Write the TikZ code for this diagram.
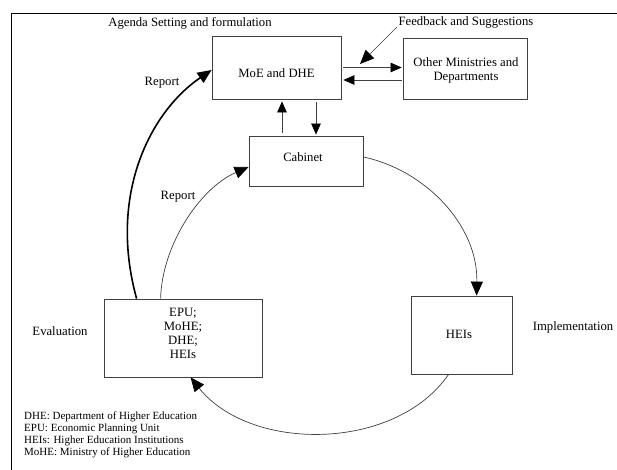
\documentclass[tikz,border=0pt]{standalone}
\usepackage{fontspec}
\setmainfont{Liberation Serif}
\usetikzlibrary{arrows.meta,calc}
\begin{document}
\begin{tikzpicture}[x=1pt,y=-1pt,
  box/.style={draw=black!75,line width=0.8pt,inner sep=0pt,align=center,font=\fontsize{12.7}{14}\selectfont},
  lbl/.style={inner sep=0pt,align=center,font=\fontsize{12.7}{14}\selectfont},
  leg/.style={inner sep=0pt,anchor=west,font=\fontsize{11}{12}\selectfont},
  bigtip/.style={-{Triangle[length=14pt,width=12pt,black]}},
  smalltip/.style={-{Triangle[length=11pt,width=9.5pt,black]}},
  thinline/.style={draw=black!75,line width=0.7pt},
  thickline/.style={draw=black,line width=1.6pt},
]
\useasboundingbox (0,0) rectangle (617,470);
\fill[white] (0,0) rectangle (617,470);
% frame
\draw[line width=1.3pt] (625,13.5) -- (11.5,13.5) -- (11.5,480);

% boxes
\node[box,minimum width=129pt,minimum height=63pt] (moe) at (276.5,67.5) {};
\node[lbl] (moetext) at (276.5,73) {MoE and DHE};
\node[box,minimum width=124pt,minimum height=61pt] (other) at (465,68.5) {};
\node[lbl] (othertext) at (466,70.5) {Other Ministries and\\Departments};
\node[box,minimum width=114pt,minimum height=50pt] (cab) at (306,161) {};
\node[lbl] (cabtext) at (303,157) {Cabinet};
\node[box,minimum width=158pt,minimum height=78pt] (eval) at (183,338) {};
\node[lbl] (evaltext) at (183,333) {EPU;\\MoHE;\\DHE;\\HEIs};
\node[box,minimum width=101pt,minimum height=78pt] (hei) at (461.5,335) {};
\node[lbl] (heitext) at (459,334) {HEIs};

% labels
\node[lbl] (agenda) at (190,23) {Agenda Setting and formulation};
\node[lbl] (fb) at (466,22) {Feedback and Suggestions};
\node[lbl] (rep1) at (162,83) {Report};
\node[lbl] (rep2) at (178,197) {Report};
\node[lbl] (evlbl) at (60,331) {Evaluation};
\node[lbl] (impl) at (573,327) {Implementation};

% legend
\node[leg] (l1) at (24,417) {DHE: Department of Higher Education};
\node[leg] (l2) at (24,429) {EPU: Economic Planning Unit};
\node[leg] (l3) at (24,441) {HEIs: Higher Education Institutions};
\node[leg] (l4) at (24,453) {MoHE: Ministry of Higher Education};

% feedback arrow
\coordinate (fbs) at (397,27);
\coordinate (fbe) at (360,64);
\draw[thinline,bigtip] (fbs) -- (fbe);

% horizontal arrows
\draw[thinline,smalltip,shorten <=2pt,shorten >=1pt] (moe.east) -- (moe.east -| other.west);
\draw[thinline,smalltip,shorten <=1pt,shorten >=2pt] ([yshift=-11.5pt]other.west) -- ([yshift=-11.5pt]other.west -| moe.east);

% vertical arrows
\draw[thinline,smalltip,shorten <=3pt,shorten >=2pt] ([xshift=-24pt]cab.north) -- ([xshift=-24pt]cab.north |- moe.south);
\draw[thinline,smalltip,shorten <=3pt,shorten >=1pt] ([xshift=10pt]cab.north |- moe.south) -- ([xshift=10pt]cab.north);

% curves
\draw[thickline,bigtip] ([xshift=33pt]eval.north west) .. controls (108,195) and (150,112) .. ([yshift=-2.5pt]moe.west);
\draw[thinline,bigtip] ([xshift=57pt]eval.north west) .. controls (162,245) and (200,188) .. ([yshift=-6pt]cab.west);
\draw[thinline,bigtip] ([yshift=4pt]cab.east) .. controls (425,170) and (478,225) .. ([xshift=66pt]hei.north west);
\draw[thinline,bigtip] ([xshift=38pt]hei.south west) .. controls (395,452) and (250,452) .. ([xshift=87pt]eval.south west);
\end{tikzpicture}
\end{document}
